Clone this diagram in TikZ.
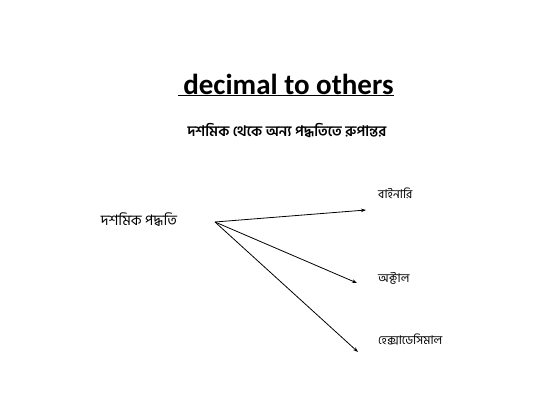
\documentclass[tikz,border=0pt]{standalone}
\usepackage{fontspec}
\setmainfont{Carlito}
\newfontfamily\bnfont[Script=Bengali]{Hind Siliguri}
\usetikzlibrary{arrows.meta}
\begin{document}
\begin{tikzpicture}[x=1pt, y=-1pt]

% Define styles
\tikzstyle{bntext} = [inner sep=0pt, font=\bnfont]
\tikzstyle{target} = [inner sep=0pt, anchor=west, font=\bnfont\fontsize{12}{14}\selectfont]
\tikzstyle{line} = [-{Stealth[length=5pt, width=3.5pt]}, line width=0.8pt]

\useasboundingbox (0,0) rectangle (560,420);

% Heading
\node[inner sep=0pt, font=\bfseries\fontsize{29}{32}\selectfont] (title) at (286,85) {\underline{\,decimal to others}};
\node[bntext, font=\bnfont\bfseries\fontsize{14.5}{17}\selectfont] (subtitle) at (287,131) {দশমিক থেকে অন্য পদ্ধতিতে রুপান্তর};

% Source system
\node[bntext, font=\bnfont\fontsize{14.5}{17}\selectfont] (decimal) at (139,220) {দশমিক পদ্ধতি};
\coordinate (start) at (215,222);

% Targets
\coordinate (binend) at (366,210);
\coordinate (octend) at (357,283);
\coordinate (hexend) at (358,352);
\node[target] (binary) at (378,193) {বাইনারি};
\node[target] (octal) at (378,278) {অক্টাল};
\node[target] (hexa) at (378,340) {হেক্সাডেসিমাল};

% Arrows
\draw[line] (start) -- (binend);
\draw[line] (start) -- (octend);
\draw[line] (start) -- (hexend);

\end{tikzpicture}
\end{document}
